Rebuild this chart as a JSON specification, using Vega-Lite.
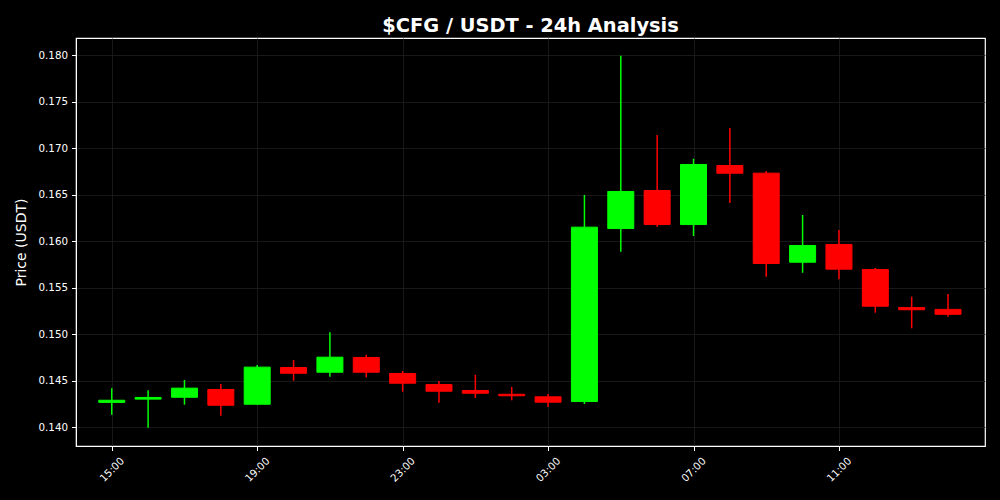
{
  "$schema": "https://vega.github.io/schema/vega-lite/v6.json",
  "width": 909,
  "height": 408,
  "autosize": {"type": "none"},
  "padding": {"left": 76, "top": 38, "right": 15, "bottom": 54},
  "background": "#000000",
  "title": {
    "text": "$CFG / USDT - 24h Analysis",
    "font": "DejaVu Sans",
    "fontSize": 19.4,
    "fontWeight": "bold",
    "color": "#ffffff",
    "anchor": "middle",
    "offset": 2
  },
  "config": {
    "view": {"stroke": "#ffffff", "strokeWidth": 1.2, "fill": "#000000"},
    "axis": {
      "labelFont": "DejaVu Sans",
      "titleFont": "DejaVu Sans",
      "labelColor": "#ffffff",
      "titleColor": "#ffffff",
      "domainColor": "#ffffff",
      "tickColor": "#ffffff",
      "gridColor": "#1e1e1e",
      "gridWidth": 0.8,
      "labelFontSize": 10.3,
      "titleFontSize": 14,
      "titleFontWeight": "normal",
      "tickSize": 4.5
    }
  },
  "data": {
    "values": [
      {"t": "2024-01-01T15:00:00Z", "open": 0.14265, "close": 0.14288, "high": 0.14416, "low": 0.14132},
      {"t": "2024-01-01T16:00:00Z", "open": 0.14300, "close": 0.14318, "high": 0.14395, "low": 0.13993},
      {"t": "2024-01-01T17:00:00Z", "open": 0.14320, "close": 0.14418, "high": 0.14505, "low": 0.14240},
      {"t": "2024-01-01T18:00:00Z", "open": 0.14404, "close": 0.14234, "high": 0.14462, "low": 0.14122},
      {"t": "2024-01-01T19:00:00Z", "open": 0.14245, "close": 0.14644, "high": 0.14667, "low": 0.14240},
      {"t": "2024-01-01T20:00:00Z", "open": 0.14640, "close": 0.14578, "high": 0.14720, "low": 0.14498},
      {"t": "2024-01-01T21:00:00Z", "open": 0.14589, "close": 0.14751, "high": 0.15018, "low": 0.14541},
      {"t": "2024-01-01T22:00:00Z", "open": 0.14748, "close": 0.14589, "high": 0.14778, "low": 0.14534},
      {"t": "2024-01-01T23:00:00Z", "open": 0.14576, "close": 0.14471, "high": 0.14602, "low": 0.14380},
      {"t": "2024-01-02T00:00:00Z", "open": 0.14457, "close": 0.14385, "high": 0.14495, "low": 0.14262},
      {"t": "2024-01-02T01:00:00Z", "open": 0.14393, "close": 0.14363, "high": 0.14562, "low": 0.14312},
      {"t": "2024-01-02T02:00:00Z", "open": 0.14352, "close": 0.14336, "high": 0.14430, "low": 0.14287},
      {"t": "2024-01-02T03:00:00Z", "open": 0.14325, "close": 0.14267, "high": 0.14355, "low": 0.14215},
      {"t": "2024-01-02T04:00:00Z", "open": 0.14274, "close": 0.16149, "high": 0.16495, "low": 0.14247},
      {"t": "2024-01-02T05:00:00Z", "open": 0.16134, "close": 0.16533, "high": 0.17993, "low": 0.15885},
      {"t": "2024-01-02T06:00:00Z", "open": 0.16543, "close": 0.16177, "high": 0.17140, "low": 0.16154},
      {"t": "2024-01-02T07:00:00Z", "open": 0.16177, "close": 0.16823, "high": 0.16885, "low": 0.16054},
      {"t": "2024-01-02T08:00:00Z", "open": 0.16812, "close": 0.16729, "high": 0.17215, "low": 0.16409},
      {"t": "2024-01-02T09:00:00Z", "open": 0.16730, "close": 0.15758, "high": 0.16753, "low": 0.15616},
      {"t": "2024-01-02T10:00:00Z", "open": 0.15772, "close": 0.15952, "high": 0.16280, "low": 0.15659},
      {"t": "2024-01-02T11:00:00Z", "open": 0.15963, "close": 0.15697, "high": 0.16118, "low": 0.15588},
      {"t": "2024-01-02T12:00:00Z", "open": 0.15694, "close": 0.15299, "high": 0.15710, "low": 0.15229},
      {"t": "2024-01-02T13:00:00Z", "open": 0.15284, "close": 0.15261, "high": 0.15401, "low": 0.15061},
      {"t": "2024-01-02T14:00:00Z", "open": 0.15265, "close": 0.15212, "high": 0.15430, "low": 0.15187}
    ]
  },
  "encoding": {
    "x": {
      "field": "t",
      "type": "temporal",
      "scale": {
        "type": "utc",
        "domain": [
          {"year": 2024, "month": 1, "date": 1, "hours": 14, "minutes": 1, "utc": true},
          {"year": 2024, "month": 1, "date": 2, "hours": 15, "minutes": 1, "utc": true}
        ],
        "nice": false,
        "padding": 0
      },
      "axis": {
        "title": null,
        "format": "%H:%M",
        "values": [
          {"year": 2024, "month": 1, "date": 1, "hours": 15, "utc": true},
          {"year": 2024, "month": 1, "date": 1, "hours": 19, "utc": true},
          {"year": 2024, "month": 1, "date": 1, "hours": 23, "utc": true},
          {"year": 2024, "month": 1, "date": 2, "hours": 3, "utc": true},
          {"year": 2024, "month": 1, "date": 2, "hours": 7, "utc": true},
          {"year": 2024, "month": 1, "date": 2, "hours": 11, "utc": true}
        ],
        "labelAngle": -45,
        "labelAlign": "center",
        "labelBaseline": "middle",
        "labelPadding": 19
      }
    },
    "color": {
      "condition": {"test": "datum.close >= datum.open", "value": "#00ff00"},
      "value": "#ff0000"
    }
  },
  "layer": [
    {
      "mark": {"type": "rule", "strokeWidth": 1.5},
      "encoding": {
        "y": {
          "field": "low",
          "type": "quantitative",
          "scale": {"domain": [0.13796, 0.18183], "nice": false, "zero": false},
          "axis": {
            "title": "Price (USDT)",
            "values": [0.14, 0.145, 0.15, 0.155, 0.16, 0.165, 0.17, 0.175, 0.18],
            "format": ".3f",
            "titlePadding": 10,
            "labelPadding": 4
          }
        },
        "y2": {"field": "high"}
      }
    },
    {
      "mark": {"type": "bar", "size": 26, "strokeWidth": 1},
      "encoding": {
        "y": {"field": "open", "type": "quantitative"},
        "y2": {"field": "close"},
        "stroke": {
          "condition": {"test": "datum.close >= datum.open", "value": "#00ff00"},
          "value": "#ff0000"
        }
      }
    }
  ]
}
